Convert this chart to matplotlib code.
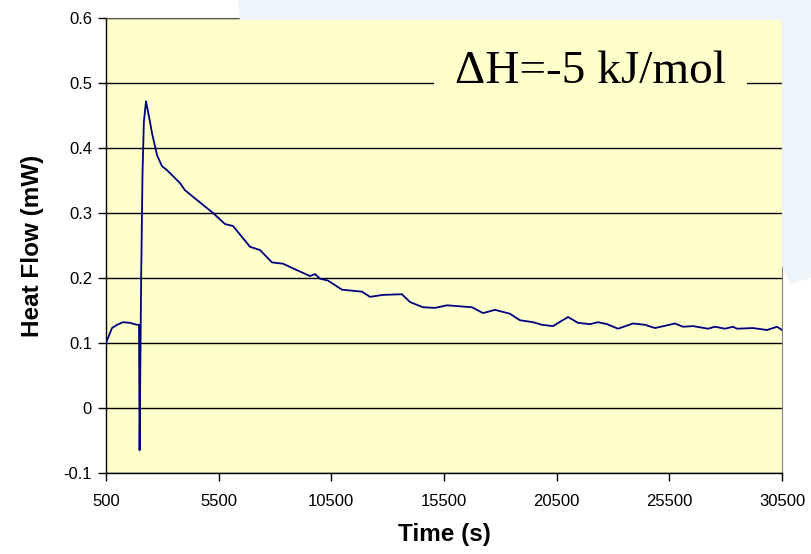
import matplotlib
matplotlib.use('Agg')
import matplotlib.pyplot as plt
from matplotlib.patches import Polygon

# values
time_s = [500, 766, 988, 1254, 1565, 1876, 1965, 1990, 2060, 2120, 2180, 2275,
          2453, 2541, 2763, 2985, 3207, 3784, 4006, 4538, 5249, 5781, 6136,
          6891, 7335, 7867, 8355, 8977, 9554, 9776, 9997, 10352, 10973, 11861,
          12216, 12793, 13633, 13991, 14568, 15100, 15633, 16743, 17231, 17764,
          18429, 18873, 19450, 19850, 20338, 21004, 21447, 21980, 22335, 22734,
          23222, 23888, 24420, 24864, 25752, 26107, 26551, 27216, 27527, 27971,
          28326, 28504, 29214, 29835, 30279, 30500]
heat_flow = [0.100, 0.123, 0.128, 0.132, 0.131, 0.128, 0.128, -0.065, 0.20, 0.36,
             0.44, 0.472, 0.440, 0.423, 0.389, 0.372, 0.366, 0.346, 0.335, 0.320,
             0.300, 0.283, 0.280, 0.248, 0.243, 0.224, 0.222, 0.212, 0.203, 0.206,
             0.199, 0.196, 0.182, 0.179, 0.171, 0.174, 0.175, 0.163, 0.155, 0.154,
             0.158, 0.155, 0.146, 0.151, 0.145, 0.135, 0.132, 0.128, 0.126, 0.140,
             0.131, 0.129, 0.132, 0.129, 0.122, 0.130, 0.128, 0.123, 0.130, 0.125,
             0.126, 0.122, 0.125, 0.122, 0.125, 0.122, 0.123, 0.120, 0.125, 0.120]

x_ticks = [500, 5500, 10500, 15500, 20500, 25500, 30500]
y_ticks = [-0.1, 0, 0.1, 0.2, 0.3, 0.4, 0.5, 0.6]
y_tick_labels = ['-0.1', '0', '0.1', '0.2', '0.3', '0.4', '0.5', '0.6']
annotation = '\u0394H=-5 kJ/mol'

plt.rcParams['font.family'] = ['Liberation Sans', 'DejaVu Sans']

fig = plt.figure(figsize=(8.11, 5.54), dpi=100)
fig.patch.set_facecolor('white')

# faint watermark shapes behind the chart
wm = '#edf4fa'
fig.patches.append(Polygon([[238 / 811, 1.0], [1.0, 1.0], [1.0, 0.965], [240 / 811, 0.965]],
                           closed=True, transform=fig.transFigure, color=wm, zorder=0))
fig.patches.append(Polygon([[0.965, 1.0], [1.0, 1.0], [1.0, 0.50], [0.975, 0.49],
                            [0.965, 0.52]],
                           closed=True, transform=fig.transFigure, color=wm, zorder=0))

ax = fig.add_axes([106 / 811, 81 / 554, 676 / 811, 455 / 554])
ax.set_facecolor('#ffffcc')

ax.plot(time_s, heat_flow, color='#000080', linewidth=1.3, zorder=3)

ax.set_xlim(500, 30500)
ax.set_ylim(-0.1, 0.6)
ax.set_xticks(x_ticks)
ax.set_xticklabels([str(t) for t in x_ticks])
ax.set_yticks(y_ticks)
ax.set_yticklabels(y_tick_labels)
ax.tick_params(axis='both', direction='out', length=6, width=1, labelsize=12,
               colors='black')
ax.tick_params(axis='x', pad=9)
ax.tick_params(axis='y', pad=4)

ax.set_axisbelow(True)
ax.yaxis.grid(True, color='black', linewidth=1.0, zorder=1)

for side in ['left', 'bottom']:
    ax.spines[side].set_color('black')
    ax.spines[side].set_linewidth(1.0)
ax.spines['right'].set_color('#808080')
ax.spines['top'].set_color('#555555')

ax.set_xlabel('Time (s)', fontsize=17.5, fontweight='bold', labelpad=10)
ax.set_ylabel('Heat Flow (mW)', fontsize=17.5, fontweight='bold', labelpad=14)

ax.text(0.516, 0.5, annotation, transform=ax.get_yaxis_transform(),
        fontsize=34, family=['Liberation Serif', 'DejaVu Serif'],
        ha='left', va='baseline', zorder=5,
        bbox=dict(boxstyle='square,pad=0.45', facecolor='#ffffcc',
                  edgecolor='none'))

fig.savefig('out.png', dpi=100)
